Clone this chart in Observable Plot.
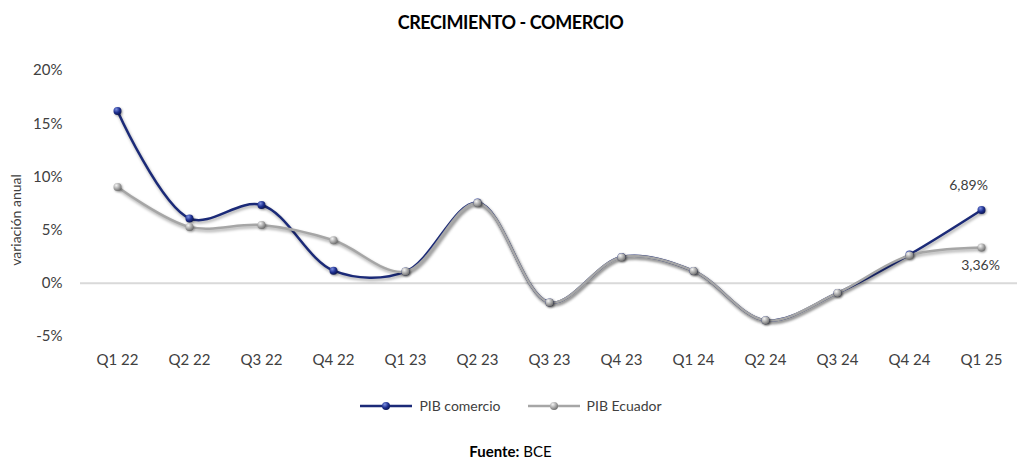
<!DOCTYPE html>
<html>
<head>
<meta charset="utf-8">
<script src="https://cdn.jsdelivr.net/npm/d3@7"></script>
<script src="https://cdn.jsdelivr.net/npm/@observablehq/plot@0.6"></script>
<style>
  body { margin: 0; background: #fff; font-family: Lato, "Open Sans", sans-serif; color: #404040; overflow: hidden; }
  #wrap { width: 1021px; height: 463px; position: relative; overflow: hidden; }
  #title { position: absolute; top: 11px; left: 0; width: 1021px; text-align: center; font-weight: bold; font-size: 18px; line-height: 22px; color: #000; letter-spacing: -0.4px; }
  #chart { position: absolute; top: 40px; left: 0; }
  #legend { position: absolute; top: 397px; left: 0; width: 1021px; display: flex; justify-content: center; gap: 26px; font-size: 14px; line-height: 18px; color: #404040; }
  #legend .item { display: flex; align-items: center; gap: 6px; }
  #source { position: absolute; top: 443px; left: 0; width: 1021px; text-align: center; font-size: 15px; line-height: 17px; color: #000; }
  #chart g[aria-label="line"] path { filter: drop-shadow(1px 2px 1.5px rgba(0,0,0,0.35)); }
  #chart g[aria-label="dot"] circle { filter: drop-shadow(1px 1px 1px rgba(0,0,0,0.35)); }
</style>
</head>
<body>
<div id="wrap">
  <div id="title">CRECIMIENTO - COMERCIO</div>
  <div id="chart"></div>
  <div id="legend"></div>
  <div id="source"><b>Fuente:</b> BCE</div>
</div>
<script>
const quarters = ["Q1 22","Q2 22","Q3 22","Q4 22","Q1 23","Q2 23","Q3 23","Q4 23","Q1 24","Q2 24","Q3 24","Q4 24","Q1 25"];
const pibComercio = [16.2, 6.1, 7.36, 1.19, 1.1, 7.6, -1.8, 2.47, 1.16, -3.48, -0.91, 2.7, 6.89];
const pibEcuador  = [9.05, 5.3, 5.48, 4.04, 1.1, 7.55, -1.8, 2.45, 1.16, -3.48, -0.91, 2.62, 3.36];
const yTicks = [-5, 0, 5, 10, 15, 20];
const seriesNames = ["PIB comercio", "PIB Ecuador"];
const seriesColors = ["#1b2a78", "#a6a6a6"];
const lastLabels = ["6,89%", "3,36%"];

const rows = [];
quarters.forEach((q, i) => {
  rows.push({q, v: pibComercio[i], s: seriesNames[0]});
});
quarters.forEach((q, i) => {
  rows.push({q, v: pibEcuador[i], s: seriesNames[1]});
});
const com = rows.filter(d => d.s === seriesNames[0]);
const ecu = rows.filter(d => d.s === seriesNames[1]);
const lastCom = com[com.length - 1];
const lastEcu = ecu[ecu.length - 1];

const plot = Plot.plot({
  width: 1021,
  height: 345,
  marginLeft: 80,
  marginRight: 4,
  marginTop: 30,
  marginBottom: 49,
  style: { fontFamily: "Lato, 'Open Sans', sans-serif", fontSize: "15px", color: "#404040", background: "transparent" },
  x: { type: "point", domain: quarters, padding: 0.5, label: null, tickSize: 0, tickPadding: 18 },
  y: { domain: [-5, 20], ticks: yTicks, tickFormat: d => d + "%", label: null, tickSize: 0, tickPadding: 18 },
  marks: [
    Plot.ruleY([0], { stroke: "#d9d9d9", strokeWidth: 2 }),
    Plot.line(com, { x: "q", y: "v", stroke: seriesColors[0], strokeWidth: 2.5, curve: "catmull-rom" }),
    Plot.line(ecu, { x: "q", y: "v", stroke: seriesColors[1], strokeWidth: 2.5, curve: "catmull-rom" }),
    Plot.dot(com, { x: "q", y: "v", r: 4, fill: "url(#gNavy)" }),
    Plot.dot(ecu, { x: "q", y: "v", r: 4, fill: "url(#gGray)" }),
    Plot.text([lastCom], { x: "q", y: "v", text: () => lastLabels[0], dy: -24, dx: -13, fontSize: 14, fill: "#404040" }),
    Plot.text([lastEcu], { x: "q", y: "v", text: () => lastLabels[1], dy: 18, dx: -1, fontSize: 14, fill: "#404040" })
  ]
});

const svg = d3.select(plot);
const defs = svg.insert("defs", ":first-child");
function grad(id, c0, c1, c2) {
  const g = defs.append("radialGradient").attr("id", id).attr("cx", "35%").attr("cy", "30%").attr("r", "75%");
  g.append("stop").attr("offset", "0%").attr("stop-color", c0);
  g.append("stop").attr("offset", "55%").attr("stop-color", c1);
  g.append("stop").attr("offset", "100%").attr("stop-color", c2);
}
grad("gNavy", "#7d8fe0", "#1e3090", "#0b1450");
grad("gGray", "#f5f5f5", "#a8a8a8", "#6a6a6a");

svg.append("text")
  .attr("transform", "translate(21,180) rotate(-90)")
  .attr("text-anchor", "middle")
  .attr("font-size", 14)
  .attr("fill", "#404040")
  .text("variación anual");

document.getElementById("chart").appendChild(plot);

// legend
const legend = d3.select("#legend");
seriesNames.forEach((name, i) => {
  const item = legend.append("div").attr("class", "item");
  const s = item.append("svg").attr("width", 54).attr("height", 12);
  s.append("line").attr("x1", 1).attr("x2", 53).attr("y1", 6).attr("y2", 6).attr("stroke", seriesColors[i]).attr("stroke-width", 2.5);
  s.append("circle").attr("cx", 27).attr("cy", 6).attr("r", 4).attr("fill", i === 0 ? "url(#gNavy)" : "url(#gGray)");
  item.append("span").text(name);
});
</script>
</body>
</html>
